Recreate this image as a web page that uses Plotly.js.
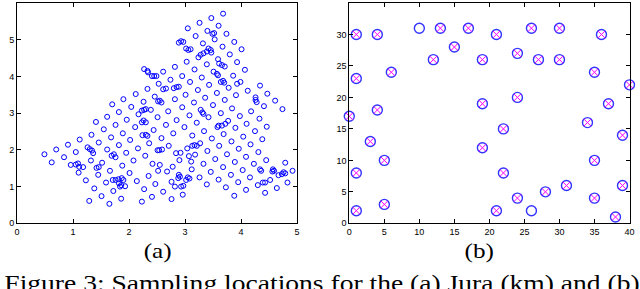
<!DOCTYPE html>
<html>
<head>
<meta charset="utf-8">
<script src="https://cdn.plot.ly/plotly-3.0.1.min.js"></script>
<style>html,body{margin:0;padding:0;background:#fff;}#chart{width:640px;height:289px;}</style>
</head>
<body>
<div id="chart"></div>
<script>
// (a) Jura sampling locations (km)
const juraX = [2.27,2.33,2.34,2.41,2.45,2.49,2.53,2.33,2.46,2.12,1.90,1.70,2.26,2.04,1.82,1.61,1.41,1.96,2.17,2.23,2.27,2.30,2.39,1.76,1.55,2.11,2.23,2.26,2.30,2.51,2.44,1.33,1.12,1.68,1.89,2.24,2.30,2.33,2.36,0.91,0.70,0.49,0.62,0.84,1.05,1.26,1.30,1.34,1.36,1.46,1.61,1.82,2.02,2.16,2.29,2.51,2.42,2.35,2.52,2.47,2.27,2.23,1.95,2.08,2.01,1.88,1.69,1.73,1.76,1.52,1.32,1.42,1.46,1.18,1.05,1.11,1.09,0.96,1.10,1.23,1.45,1.66,1.71,1.76,1.81,1.87,1.90,1.82,1.86,1.84,1.93,1.59,1.38,1.72,1.51,1.29,1.86,1.65,2.14,
3.68,3.47,3.26,3.60,3.05,3.40,3.49,3.52,3.74,3.19,2.89,2.93,2.97,3.32,3.53,3.88,3.67,3.02,3.06,3.10,3.42,3.46,3.39,3.33,3.28,3.47,4.01,3.80,3.24,3.59,3.61,3.66,3.71,3.93,3.39,3.03,2.82,2.61,3.17,3.51,3.57,3.59,4.07,3.86,3.30,2.95,2.74,3.64,3.68,3.70,3.99,3.93,4.34,3.09,3.43,3.78,4.12,4.47,2.61,2.66,2.80,2.85,2.89,3.23,3.57,3.91,4.26,4.28,4.26,4.61,4.74,4.41,4.18,3.84,3.71,3.36,3.01,2.55,2.58,2.52,2.82,3.16,3.50,2.70,2.95,3.28,3.31,3.33,3.64,3.98,4.33,4.10,4.46,3.77,3.72,3.66,3.60,3.58,3.42,3.08,2.85,3.21,2.99,2.66,3.90,2.79,3.13,3.34,3.69,4.04,4.25,4.38,2.58,2.71,2.92,2.54,2.59,2.84,3.04,3.13,3.17,3.21,3.27,3.48,3.61,3.83,3.96,4.17,4.31,2.90,3.07,3.18,3.40,3.54,3.75,3.89,4.03,4.09,4.23,4.45,4.34,4.36,4.57,4.59,4.56,4.79,4.92,4.76,4.79,4.73,4.67,4.83,4.52,4.64,4.39,4.43,4.43,4.30,4.16,4.09,3.95,3.82,3.73,3.88,3.68,3.60,3.46,3.39,3.33,3.26,3.12,3.11,3.05,3.08,3.02,2.97,2.93,2.89,2.91,2.88,2.82,2.96,2.76,2.68,2.61,2.55,2.76,2.41,2.78];
const juraY = [4.20,4.15,4.11,4.01,4.01,4.01,3.80,3.66,3.45,3.52,3.38,3.24,3.31,3.17,3.03,2.90,2.76,2.82,2.97,3.07,3.09,3.11,3.09,2.68,2.56,2.62,2.75,2.80,2.75,2.89,2.54,2.41,2.28,2.34,2.45,2.40,2.41,2.38,2.18,2.14,2.01,1.88,1.66,1.80,1.94,2.07,2.02,1.98,1.91,2.20,2.01,2.13,2.27,2.04,1.84,1.99,1.62,1.29,1.43,1.07,0.93,0.59,1.92,1.71,1.37,1.57,1.84,1.88,1.80,1.65,1.71,1.51,1.53,1.53,1.60,1.54,1.63,1.59,1.38,1.17,1.32,1.43,1.18,1.18,1.20,1.23,1.18,1.09,1.04,1.00,1.01,1.11,0.95,0.88,0.74,0.61,0.67,0.53,1.15,
5.71,5.59,5.46,5.38,5.31,5.24,5.16,5.18,5.16,5.10,4.92,4.96,4.94,4.90,5.01,4.94,4.81,4.76,4.72,4.74,4.76,4.72,4.68,4.63,4.59,4.65,4.74,4.60,4.52,4.47,4.35,4.31,4.27,4.39,4.33,4.40,4.26,4.13,4.19,4.13,4.07,4.03,4.18,4.02,3.97,4.01,3.91,3.85,3.88,3.83,3.85,3.80,3.75,3.85,3.77,3.69,3.61,3.53,3.65,3.67,3.68,3.71,3.72,3.63,3.55,3.49,3.43,3.30,3.36,3.34,3.11,3.19,3.05,3.13,3.36,3.42,3.50,3.34,3.29,3.32,3.38,3.29,3.22,3.05,3.16,3.09,3.02,2.98,3.00,2.92,2.85,2.71,2.63,2.79,2.71,2.66,2.66,2.62,2.89,2.94,2.81,2.74,2.62,2.68,2.60,2.45,2.39,2.51,2.43,2.36,2.51,2.29,2.32,2.11,1.92,1.99,2.01,1.91,2.04,2.11,2.13,2.11,2.18,2.31,2.11,2.23,2.03,2.15,1.94,1.72,1.83,1.87,1.97,1.75,1.88,1.67,1.45,1.81,1.62,1.72,1.47,1.43,1.47,1.43,1.41,1.65,1.43,1.39,1.36,1.34,1.31,1.11,1.18,0.96,1.11,1.11,0.83,1.04,1.25,0.91,1.12,1.32,0.98,0.75,1.53,1.19,1.40,1.06,1.62,1.25,1.47,1.68,1.25,1.22,1.18,1.02,1.00,1.32,1.27,1.23,1.00,0.78,1.13,1.41,0.86,1.59,0.66,0.72,1.54];

// (b) sampling sites (circles) and sites marked with a cross
const siteX = [0,1,1,1,1,3,4,4,5,5,6,10,12,13,15,17,19,19,19,21,21,22,22,24,24,24,26,26,27,28,30,30,31,34,35,35,35,36,37,38,39,39,40];
const siteY = [17,30,23,8,2,13,30,18,10,3,24,31,26,31,28,31,26,19,12,30,2,15,8,27,20,4,31,2,26,5,31,26,6,16,24,10,4,30,19,1,14,6,22];
const crossX = [0,1,1,1,1,3,4,4,5,5,6,12,13,15,17,19,19,19,21,21,22,22,24,24,24,26,27,28,30,30,31,34,35,35,35,36,37,38,39,39,40];
const crossY = [17,30,23,8,2,13,30,18,10,3,24,26,31,28,31,26,19,12,30,2,15,8,27,20,4,31,26,5,31,26,6,16,24,10,4,30,19,1,14,6,22];

const subLabels = ['(a)', '(b)'];
const captionText = 'Figure 3: Sampling locations for the (a) Jura (km) and (b)';

const tickFont = {family: "'Liberation Sans', Arial, sans-serif", size: 9, color: '#000'};
function ax(extra) {
  return Object.assign({
    showline: true, linecolor: '#000', linewidth: 1, mirror: 'ticks',
    ticks: 'inside', ticklen: 4, tickwidth: 1, tickcolor: '#000',
    showgrid: false, zeroline: false, tickfont: tickFont, fixedrange: true
  }, extra);
}

const traces = [
  {x: juraX, y: juraY, xaxis: 'x', yaxis: 'y', type: 'scatter', mode: 'markers', cliponaxis: false,
   marker: {symbol: 'circle-open', size: 5, color: '#0000ff', line: {width: 1, color: '#0000ff'}}, hoverinfo: 'none'},
  {x: siteX, y: siteY, xaxis: 'x2', yaxis: 'y2', type: 'scatter', mode: 'markers', cliponaxis: false,
   marker: {symbol: 'circle-open', size: 10, color: '#3333ff', line: {width: 1.4, color: '#3333ff'}}, hoverinfo: 'none'},
  {x: crossX, y: crossY, xaxis: 'x2', yaxis: 'y2', type: 'scatter', mode: 'markers', cliponaxis: false,
   marker: {symbol: 'x-thin-open', size: 7, color: '#ff00ff', line: {width: 1, color: '#ff00ff'}}, hoverinfo: 'none'}
];

const serif = "'Liberation Serif', 'Times New Roman', Times, serif";
const layout = {
  width: 640, height: 289, margin: {l: 0, r: 0, t: 0, b: 0},
  paper_bgcolor: '#fff', plot_bgcolor: '#fff', showlegend: false,
  font: {family: "'Liberation Sans', Arial, sans-serif"},
  xaxis: ax({domain: [17/640, 297/640], range: [0, 5], dtick: 1, anchor: 'y'}),
  yaxis: ax({domain: [1-223.3/289, 1-3/289], range: [0, 6], dtick: 1, anchor: 'x'}),
  xaxis2: ax({domain: [349.3/640, 629.5/640], range: [0, 40], dtick: 5, anchor: 'y2'}),
  yaxis2: ax({domain: [1-223.3/289, 1-3/289], range: [0, 35], dtick: 5, anchor: 'x2'}),
  annotations: [
    {text: subLabels[0], xref: 'paper', yref: 'paper', x: 157/640, y: 1-251/289, xanchor: 'center', yanchor: 'middle', showarrow: false, font: {family: serif, size: 21, color: '#000'}},
    {text: subLabels[1], xref: 'paper', yref: 'paper', x: 479/640, y: 1-251/289, xanchor: 'center', yanchor: 'middle', showarrow: false, font: {family: serif, size: 21, color: '#000'}},
    {text: captionText, xref: 'paper', yref: 'paper', x: 2/640, y: 1-269/289, xanchor: 'left', yanchor: 'top', showarrow: false, font: {family: serif, size: 23, color: '#000'}}
  ]
};

Plotly.newPlot('chart', traces, layout, {displayModeBar: false, staticPlot: true}).then(function (gd) {
  const texts = gd.querySelectorAll('.annotation-text');
  texts.forEach(function (t, i) {
    const bb = t.getBBox();
    let s, cx;
    if (i === 2) { s = 636 / bb.width; cx = bb.x; }
    else { s = 1.2; cx = bb.x + bb.width / 2; }
    t.setAttribute('transform', 'translate(' + cx + ',0) scale(' + s + ',1) translate(' + (-cx) + ',0)');
  });
});
</script>
</body>
</html>
